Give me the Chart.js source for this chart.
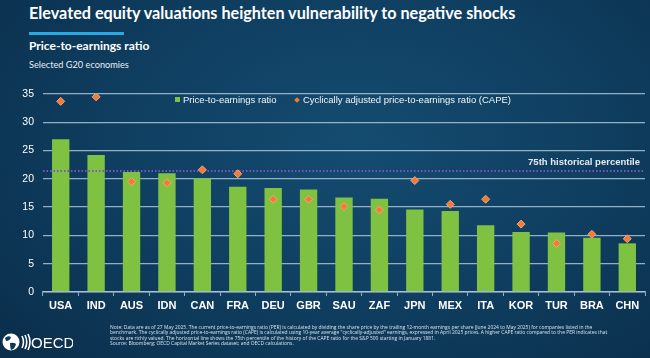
<!DOCTYPE html>
<html>
<head>
<meta charset="utf-8">
<script src="https://cdn.jsdelivr.net/npm/chart.js@4.4.1/dist/chart.umd.min.js"></script>
<style>
  html, body { margin: 0; padding: 0; }
  body {
    width: 650px; height: 358px; overflow: hidden; position: relative;
    background: radial-gradient(ellipse 75% 90% at 55% 40%, #144c70 0%, #0f3e60 50%, #0a2d4a 100%);
    font-family: 'Liberation Sans Narrow', 'Liberation Sans', Arial, sans-serif;
    color: #fff;
  }
  .abs { position: absolute; white-space: nowrap; }
  #title { left: 29px; top: 3px; font: bold 16.2px Lato, 'Open Sans', sans-serif; }
  #bar { left: 29px; top: 32px; width: 95px; height: 3px; background: #29a9e1; }
  #subtitle { left: 29px; top: 38px; font: bold 12px Lato, sans-serif; }
  #sub2 { left: 29px; top: 59px; font: 9.2px Lato, sans-serif; color: #e8eef3; }
  #wrap { position: absolute; left: 0; top: 0; width: 650px; height: 358px; }
  .leg { top: 94px; font-size: 9.5px; color: #f2f6f8; }
  .sq { display: inline-block; width: 5px; height: 5px; background: #7fc241; margin-right: 3px; vertical-align: 1px; }
  .dm { display: inline-block; width: 4px; height: 4px; background: #f27b36; transform: rotate(45deg); margin-right: 4px; vertical-align: 1px; }
  #note { left: 110px; top: 325px; font: 4.95px 'Open Sans', sans-serif; line-height: 5.3px; color: #d9e3ea; }
  #logo { left: 1px; top: 329px; display: block; }
</style>
</head>
<body>
<div class="abs" id="title">Elevated equity valuations heighten vulnerability to negative shocks</div>
<div class="abs" id="bar"></div>
<div class="abs" id="subtitle">Price-to-earnings ratio</div>
<div class="abs" id="sub2">Selected G20 economies</div>
<div id="wrap"><canvas id="chart"></canvas></div>
<div class="abs leg" style="left:175px"><span class="sq"></span>Price-to-earnings ratio</div>
<div class="abs leg" style="left:295px"><span class="dm"></span>Cyclically adjusted price-to-earnings ratio (CAPE)</div>
<svg class="abs" id="logo" width="72" height="26" viewBox="0 0 72 26">
  <circle cx="10" cy="13" r="8.5" fill="#fff"/>
  <path d="M4 9 q3 -3 6 -1 q-1 4 -5 4 z M9 14 q4 -1 6 1 q-1 5 -5 6 q-1 -3 -1 -7 z" fill="#0d3a5a"/>
  <path d="M21 7 q3 6 0 12 M24 6 q3.5 7 0 14 M27 5 q4 8 0 16" stroke="#fff" stroke-width="1.6" fill="none"/>
  <text x="30" y="18.5" font-family="Liberation Sans, Arial" font-size="15" fill="#fff">OECD</text>
</svg>
<div class="abs" id="note">Note: Data are as of 27 May 2025. The current price-to-earnings ratio (PER) is calculated by dividing the share price by the trailing 12-month earnings per share (June 2024 to May 2025) for companies listed in the<br>benchmark. The cyclically adjusted price-to-earnings ratio (CAPE) is calculated using 10-year average "cyclically-adjusted" earnings, expressed in April 2025 prices. A higher CAPE ratio compared to the PER indicates that<br>stocks are richly valued. The horizontal line shows the 75th percentile of the history of the CAPE ratio for the S&amp;P 500 starting in January 1881.<br>Source: Bloomberg; OECD Capital Market Series dataset; and OECD calculations.</div>
<script>
const countries = ['USA', 'IND', 'AUS', 'IDN', 'CAN', 'FRA', 'DEU', 'GBR', 'SAU', 'ZAF', 'JPN', 'MEX', 'ITA', 'KOR', 'TUR', 'BRA', 'CHN'];
const perValues = [27.0, 24.2, 21.2, 21.0, 20.1, 18.6, 18.4, 18.1, 16.7, 16.5, 14.6, 14.3, 11.8, 10.6, 10.5, 9.6, 8.6];
const capeValues = [33.7, 34.5, 19.5, 19.3, 21.6, 20.9, 16.4, 16.4, 15.1, 14.5, 19.7, 15.5, 16.4, 12.0, 8.6, 10.2, 9.4];
const percentile75 = 21.4;
const yMin = 0, yMax = 35, yStep = 5;

const fontFamily = "'Liberation Sans Narrow', 'Liberation Sans', Arial, sans-serif";
const gridColor = 'rgba(170,198,214,0.85)';

// dotted 75th percentile line, drawn after the bars and before the diamonds
const percentileLine = {
    id: 'percentileLine',
    afterDatasetDraw(chart, args) {
        if (args.index !== 0) return;
        const { ctx, chartArea } = chart;
        const y = chart.scales.y.getPixelForValue(percentile75);
        ctx.save();
        ctx.strokeStyle = '#7a52cc';
        ctx.lineWidth = 2;
        ctx.setLineDash([1.5, 2]);
        ctx.beginPath();
        ctx.moveTo(chartArea.left, y);
        ctx.lineTo(chartArea.right, y);
        ctx.stroke();
        ctx.setLineDash([]);
        ctx.fillStyle = '#e4ebf0';
        ctx.font = 'bold 9.5px ' + fontFamily;
        ctx.textAlign = 'right';
        ctx.textBaseline = 'bottom';
        ctx.fillText('75th historical percentile', chartArea.right - 5, y - 4);
        ctx.restore();
    }
};

new Chart(document.getElementById('chart'), {
    type: 'bar',
    data: {
        labels: countries,
        datasets: [
            {
                label: 'Price-to-earnings ratio',
                data: perValues,
                backgroundColor: '#7fc241',
                categoryPercentage: 1,
                barPercentage: 0.49,
                order: 1
            },
            {
                type: 'line',
                label: 'Cyclically adjusted price-to-earnings ratio (CAPE)',
                data: capeValues,
                showLine: false,
                pointStyle: 'rectRot',
                pointRadius: 4,
                pointBackgroundColor: '#f27b36',
                pointBorderColor: '#f7a37a',
                pointBorderWidth: 1,
                order: 0
            }
        ]
    },
    options: {
        responsive: true,
        maintainAspectRatio: false,
        animation: false,
        layout: { padding: { top: 94, right: 5, bottom: 44, left: 0 } },
        plugins: {
            legend: { display: false },
            tooltip: { enabled: false }
        },
        scales: {
            x: {
                offset: true,
                afterFit: s => { s.height = 22; },
                grid: { drawOnChartArea: false, drawTicks: true, tickLength: 4, color: gridColor, offset: true },
                border: { display: true, color: gridColor, width: 1.5 },
                ticks: { color: '#ffffff', font: { family: fontFamily, size: 11, weight: 'bold' }, padding: 3 }
            },
            y: {
                min: yMin,
                max: yMax,
                afterFit: s => { s.width = 43; },
                grid: { color: gridColor, lineWidth: 1.3, drawTicks: false },
                border: { display: false },
                ticks: { stepSize: yStep, color: '#ffffff', font: { family: fontFamily, size: 10.5 }, padding: 9 }
            }
        }
    },
    plugins: [percentileLine]
});
</script>
</body>
</html>
